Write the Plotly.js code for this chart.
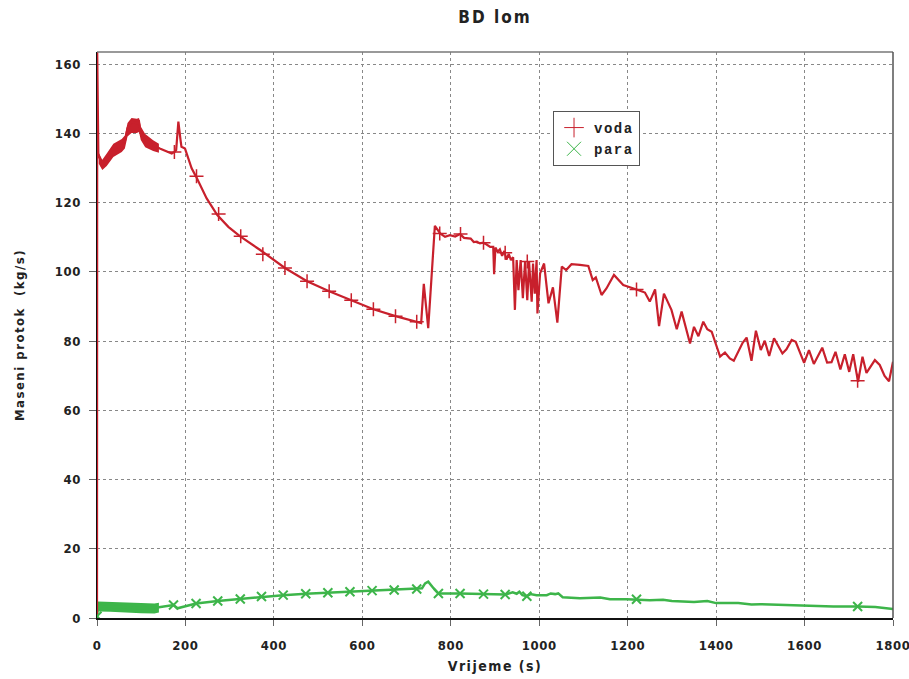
<!DOCTYPE html>
<html>
<head>
<meta charset="utf-8">
<script src="https://cdn.plot.ly/plotly-3.0.1.min.js"></script>
<style>
html,body{margin:0;padding:0;background:#fff;}
#chart{width:909px;height:679px;}
.xtick text,.ytick text,.g-xtitle text,.g-ytitle text,.gtitle{font-stretch:condensed;}
.xtick text,.ytick text{letter-spacing:0.6px;}
.g-xtitle text,.g-ytitle text{letter-spacing:1.5px;}
.gtitle{letter-spacing:2px;}
.legendtext{letter-spacing:1.5px;}
</style>
</head>
<body>
<div id="chart"></div>
<script>
// ---- voda (red) ----
const tVoda = [0, 0.5, 3, 10.5, 22, 37, 56, 63, 69, 78, 90, 95, 99, 109, 127, 142, 169, 176, 179, 184, 189, 191, 199, 203, 214, 224, 248, 272, 297, 323, 369, 425, 475, 525, 575, 625, 675, 723, 733, 739, 744, 749, 764, 770, 776, 787, 798, 810, 821, 830, 836, 845, 852, 859, 866, 873, 881, 889, 896, 898, 901, 906, 911, 916, 921, 926, 931, 936, 941, 945, 949, 953, 958, 963, 968, 973, 977, 983, 986, 990, 994, 996, 1002, 1011, 1021, 1031, 1041, 1051, 1061, 1073, 1092, 1111, 1121, 1128, 1141, 1152, 1169, 1190, 1220, 1239, 1250, 1262, 1271, 1282, 1299, 1311, 1322, 1341, 1350, 1360, 1371, 1380, 1390, 1409, 1420, 1431, 1440, 1460, 1469, 1480, 1490, 1501, 1510, 1520, 1531, 1550, 1559, 1571, 1580, 1599, 1610, 1621, 1640, 1651, 1661, 1670, 1681, 1691, 1701, 1710, 1721, 1731, 1740, 1759, 1770, 1781, 1791, 1800];
const vVoda = [0, 163.5, 134.2, 130.8, 132.3, 134.7, 136.1, 137.6, 141.5, 143.4, 142.9, 143.4, 140, 138, 136.6, 135.6, 134.2, 134.7, 135.2, 143.4, 138, 136.1, 135.6, 134.2, 129.9, 127.5, 121.2, 116.4, 113, 110.3, 106.3, 101.1, 97.3, 94.4, 91.8, 89.2, 87.2, 85.6, 85.2, 96.5, 90, 83.7, 113.3, 112.1, 111.1, 110.1, 110.6, 110.2, 110.9, 109.8, 109.7, 109.6, 108.6, 108.7, 108.2, 108.4, 107.9, 107.2, 107.2, 99.3, 107, 105.8, 106.5, 104.6, 106, 103.5, 105.2, 103.4, 104.2, 89, 103.4, 94.7, 103.4, 92.4, 102.9, 91.8, 102.9, 91.4, 102.4, 93.7, 103.4, 88, 99.6, 102.4, 90.9, 95.5, 85.3, 101.5, 100.5, 102.2, 102, 101.7, 97.6, 98.4, 93.3, 95.2, 99.1, 96.2, 94.9, 94, 91.4, 94.9, 84.3, 93.7, 89, 83.4, 88.5, 79.3, 84.1, 81.4, 85.6, 83.4, 82.7, 75.5, 76.7, 75, 74.3, 79.5, 81, 74.3, 83, 77.4, 80.1, 75.7, 80.8, 76.4, 77.6, 80.3, 79.8, 73.7, 77.4, 73.4, 78.1, 73.8, 73.9, 76.9, 71.8, 76.2, 71.1, 76.2, 68.2, 75.5, 70.8, 74.5, 73.1, 69.9, 68.4, 74];
const markTVoda = [175, 225, 275, 325, 375, 425, 475, 525, 575, 625, 675, 723, 775, 822, 874, 923, 973, 1220, 1720];
const markVoda = [134.6, 127.6, 116.7, 110.3, 105.1, 101.1, 97.3, 94.4, 91.8, 89.2, 87.2, 85.6, 111.1, 110.9, 108.4, 105.5, 103, 94.9, 68.5];
const bandTVoda = [4, 12, 22, 37, 56, 63, 69, 78, 90, 95, 99, 109, 127, 140];
const bandHiVoda = [134.3, 132.4, 134.2, 137, 138.4, 139.4, 143, 144.4, 144.2, 144.4, 142, 139.8, 138, 137];
const bandLoVoda = [131.2, 129.4, 130.6, 133.2, 134.6, 135.6, 139.1, 140.1, 140.1, 140.4, 138.1, 136, 134.9, 134.4];

// ---- para (green) ----
const tPara = [0, 2, 20, 60, 100, 140, 173, 182, 224, 273, 324, 372, 421, 472, 522, 572, 622, 672, 723, 735, 742, 749, 761, 772, 821, 874, 923, 940, 949, 955, 962, 972, 980, 994, 1017, 1026, 1036, 1043, 1053, 1092, 1138, 1160, 1198, 1250, 1280, 1300, 1350, 1380, 1400, 1450, 1480, 1500, 1550, 1590, 1630, 1665, 1721, 1760, 1800];
const vPara = [0, 3.5, 3.3, 3.1, 2.9, 3.1, 3.75, 2.8, 4.2, 4.9, 5.5, 6.2, 6.6, 7.0, 7.3, 7.6, 7.9, 8.1, 8.4, 8.6, 10.0, 10.5, 8.6, 7.1, 7.1, 6.9, 6.8, 7.4, 7.0, 7.6, 6.6, 6.3, 6.9, 6.6, 6.6, 7.1, 6.9, 7.1, 6.0, 5.7, 5.9, 5.4, 5.4, 5.1, 5.3, 4.9, 4.6, 4.9, 4.3, 4.3, 3.9, 4.0, 3.75, 3.75, 3.5, 3.3, 3.3, 3.2, 2.6];
const markTPara = [0, 173, 224, 273, 324, 372, 421, 472, 522, 572, 622, 672, 723, 772, 821, 874, 923, 972, 1220, 1720];
const markPara = [0.5, 3.75, 4.2, 4.9, 5.5, 6.2, 6.6, 7.0, 7.3, 7.6, 7.9, 8.1, 8.4, 7.1, 7.1, 6.9, 6.8, 6.3, 5.4, 3.3];
const bandTPara = [2, 30, 60, 100, 130, 140];
const bandHiPara = [4.8, 4.6, 4.5, 4.3, 4.2, 4.4];
const bandLoPara = [1.9, 1.8, 1.7, 1.4, 1.3, 1.6];

const xTicks = [0, 200, 400, 600, 800, 1000, 1200, 1400, 1600, 1800];
const yTicks = [0, 20, 40, 60, 80, 100, 120, 140, 160];

const RED = '#c8202c';
const GREEN = '#3db54a';
const FONT = '"DejaVu Sans", "Liberation Sans", Arial, sans-serif';

function band(t, hi, lo, color) {
  return {
    x: t.concat(t.slice().reverse()),
    y: hi.concat(lo.slice().reverse()),
    fill: 'toself', mode: 'lines', line: {width: 0},
    fillcolor: color, showlegend: false, hoverinfo: 'skip'
  };
}

const data = [
  band(bandTPara, bandHiPara, bandLoPara, GREEN),
  {x: tPara, y: vPara, mode: 'lines', line: {color: GREEN, width: 2.5}, showlegend: false},
  band(bandTVoda, bandHiVoda, bandLoVoda, RED),
  {x: tVoda, y: vVoda, mode: 'lines', line: {color: RED, width: 2.2}, showlegend: false},
  {x: markTVoda, y: markVoda, mode: 'markers', showlegend: false,
   marker: {symbol: 'cross-thin-open', size: 10, color: RED, line: {color: RED, width: 1.5}}},
  {x: markTPara, y: markPara, mode: 'markers', showlegend: false,
   marker: {symbol: 'x-thin-open', size: 9, color: GREEN, line: {color: GREEN, width: 2}}},
  {x: [null], y: [null], mode: 'markers', name: 'voda',
   marker: {symbol: 'cross-thin-open', size: 14, color: RED, line: {color: RED, width: 1}}},
  {x: [null], y: [null], mode: 'markers', name: 'para',
   marker: {symbol: 'x-thin-open', size: 14, color: GREEN, line: {color: GREEN, width: 1}}}
];

const layout = {
  width: 909, height: 679,
  margin: {l: 97, r: 16, t: 52, b: 61},
  paper_bgcolor: '#fff', plot_bgcolor: '#fff',
  title: {text: 'BD lom', x: 0.5446, xanchor: 'center', y: 0.975, yanchor: 'middle',
          font: {family: FONT, size: 17, color: '#222', weight: 'bold'}},
  xaxis: {
    range: [0, 1800], tickvals: xTicks, ticktext: xTicks.map(String),
    showgrid: true, gridcolor: '#888', griddash: 'dot', gridwidth: 1,
    zeroline: false, showline: true, linecolor: '#111', linewidth: 1.5,
    ticks: 'outside', ticklen: 6, tickcolor: '#666', tickwidth: 1,
    ticklabelstandoff: 9, ticklabeloverflow: 'allow',
    tickfont: {family: FONT, size: 13, color: '#222', weight: 'bold'},
    title: {text: 'Vrijeme (s)', standoff: 9, font: {family: FONT, size: 14, color: '#222', weight: 'bold'}}
  },
  yaxis: {
    range: [0, 163.5], tickvals: yTicks, ticktext: yTicks.map(String),
    showgrid: true, gridcolor: '#888', griddash: 'dot', gridwidth: 1,
    zeroline: false, showline: true, linecolor: '#111', linewidth: 1.5,
    ticks: 'outside', ticklen: 7, tickcolor: '#666', tickwidth: 1,
    ticklabelstandoff: 5, ticklabeloverflow: 'allow',
    tickfont: {family: FONT, size: 13, color: '#222', weight: 'bold'},
    title: {text: 'Maseni protok  (kg/s)', standoff: 27, font: {family: FONT, size: 13, color: '#222', weight: 'bold'}}
  },
  legend: {
    x: 0.5729, y: 0.8958, xanchor: 'left', yanchor: 'top',
    bgcolor: '#fff', bordercolor: '#555', borderwidth: 1,
    font: {family: '"Liberation Mono", "DejaVu Sans Mono", monospace', size: 14, color: '#222', weight: 'bold'},
    itemwidth: 30, tracegroupgap: 0
  },
  shapes: [
    {type: 'line', xref: 'paper', yref: 'paper', x0: 0, x1: 1, y0: 1, y1: 1, line: {color: '#777', width: 1.5}},
    {type: 'line', xref: 'paper', yref: 'paper', x0: 1, x1: 1, y0: 0, y1: 1, line: {color: '#555', width: 1.5}}
  ]
};

Plotly.newPlot('chart', data, layout, {displayModeBar: false, staticPlot: true});
</script>
</body>
</html>
